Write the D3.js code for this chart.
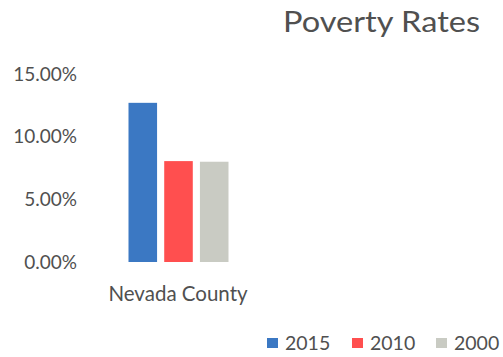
<!DOCTYPE html>
<html>
<head>
<meta charset="utf-8">
<script src="https://cdn.jsdelivr.net/npm/d3@7"></script>
<style>
  body { margin: 0; background: #fff; }
  svg { display: block; font-family: Lato, "Open Sans", sans-serif; }
</style>
</head>
<body>
<div id="chart"></div>
<script>
// Daten
const categories = ["Nevada County"];
const seriesNames = ["2015", "2010", "2000"];
const seriesValues = [0.127, 0.0805, 0.080];
const seriesColors = ["#3b78c3", "#ff4f4f", "#c9cbc3"];
const yTicks = [0, 0.05, 0.10, 0.15];

const width = 503, height = 357;
const textColor = "#505050";

const svg = d3.select("#chart").append("svg")
    .attr("width", width)
    .attr("height", height);

// Skalen
const y = d3.scaleLinear().domain([0, 0.15]).range([262, 74]);
const xGroup = d3.scaleBand().domain(categories).range([128.5, 228.5]);
const xSeries = d3.scaleBand().domain(seriesNames).range([0, xGroup.bandwidth()]).paddingInner(0.2);

// Titel
svg.append("text")
    .attr("x", 283)
    .attr("y", 32)
    .attr("fill", textColor)
    .attr("textLength", 197)
    .attr("lengthAdjust", "spacingAndGlyphs")
    .style("font-size", "29px")
    .text("Poverty Rates");

// Y-Achse
const yAxis = d3.axisLeft(y).tickValues(yTicks).tickFormat(d3.format(".2%")).tickSize(0).tickPadding(0);
const yG = svg.append("g").attr("transform", "translate(77,0)").call(yAxis);
yG.select(".domain").remove();
yG.selectAll("text")
    .attr("fill", textColor)
    .style("font-size", "19px")
    .style("font-family", "Lato, 'Open Sans', sans-serif");

// Balken
categories.forEach(cat => {
    svg.append("g")
        .selectAll("rect")
        .data(seriesNames.map((s, i) => ({ s, v: seriesValues[i], c: seriesColors[i] })))
        .join("rect")
        .attr("x", d => xGroup(cat) + xSeries(d.s))
        .attr("y", d => y(d.v))
        .attr("width", xSeries.bandwidth())
        .attr("height", d => y(0) - y(d.v))
        .attr("fill", d => d.c);

    svg.append("text")
        .attr("x", 178)
        .attr("y", 301)
        .attr("text-anchor", "middle")
        .attr("fill", textColor)
        .style("font-size", "20.5px")
        .text(cat);
});

// Legende
const legendX = [267, 352, 436];
const legend = svg.append("g")
    .selectAll("g")
    .data(seriesNames)
    .join("g")
    .attr("transform", (d, i) => `translate(${legendX[i]},0)`);

legend.append("rect")
    .attr("x", 0)
    .attr("y", 338)
    .attr("width", 11)
    .attr("height", 10)
    .attr("fill", (d, i) => seriesColors[i]);

legend.append("text")
    .attr("x", 18)
    .attr("y", 350)
    .attr("fill", textColor)
    .style("font-size", "19.5px")
    .text(d => d);
</script>
</body>
</html>
